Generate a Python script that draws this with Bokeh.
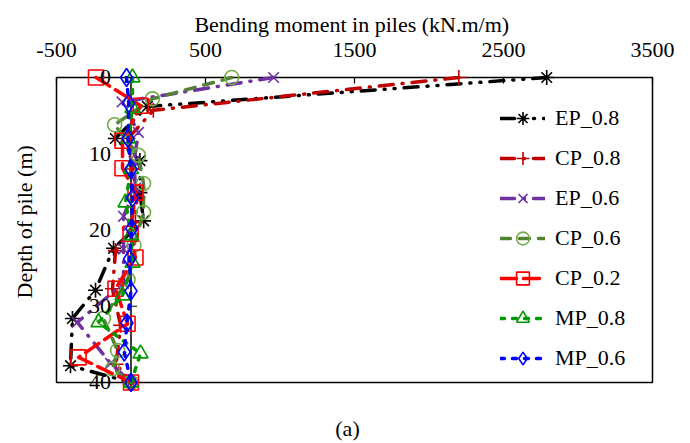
from math import pi
from bokeh.plotting import figure
from bokeh.models import (Range1d, FixedTicker, BoxAnnotation, LabelSet, Label, ColumnDataSource,
                          Title, PrintfTickFormatter)
from bokeh.core.properties import value
from bokeh.embed import file_html
from bokeh.resources import INLINE

# ---------------- data ----------------
x_ticks = [-500, 500, 1500, 2500, 3500]
y_ticks = [0, 10, 20, 30, 40]

labels = ["EP_0.8", "CP_0.8", "EP_0.6", "CP_0.6", "CP_0.2", "MP_0.8", "MP_0.6"]

depth_ep08 = [0, 3.8, 8.0, 10.9, 15.1, 18.8, 22.4, 27.9, 31.6, 37.8, 40]
moment_ep08 = [2790, 110, -105, 60, 60, 85, -117, -238, -393, -406, 0]

depth_cp08 = [0, 4.3, 8.0, 12.0, 15.5, 19.0, 22.7, 27.7, 32.5, 37.6, 40]
moment_cp08 = [2200, 150, -20, 10, 40, 30, -104, -124, -70, -100, 0]

depth_ep06 = [0, 3.2, 7.2, 11.0, 14.5, 18.2, 22.5, 27.0, 32.1, 37.5, 40]
moment_ep06 = [957, -60, 50, 20, 30, -50, -50, -50, -360, -137, 0]

depth_cp06 = [0, 2.8, 6.2, 10.2, 13.9, 17.7, 22.0, 26.5, 31.6, 35.8, 38.2, 40]
moment_cp06 = [676, 144, -110, 50, 84, 84, 20, -20, -185, -90, -124, 0]

depth_cp02 = [0, 3.7, 8.3, 11.9, 15.1, 20.5, 23.6, 27.7, 32.3, 36.7, 40]
moment_cp02 = [-235, 65, -57, -57, 30, -3, 30, -104, -23, -352, 0]

depth_mp08 = [0, 4.0, 8.0, 12.0, 16.4, 20.7, 24.3, 28.6, 32.1, 36.2, 40]
moment_mp08 = [10, 10, -20, 0, -37, 0, 10, -57, -218, 64, 0]

depth_mp06 = [0, 3.4, 8.0, 12.0, 15.8, 19.8, 23.8, 28.0, 32.2, 36.0, 40]
moment_mp06 = [-30, -15, -20, 0, 10, 5, -10, 0, -27, -45, 0]

# ---------------- styles ----------------
FONT = "Liberation Serif"
FS = "22px"

styles = [
    # depth, moment, line colour, marker, marker colour, dash, marker size
    (depth_ep08, moment_ep08, "#000000", "asterisk", "#000000", "14 9 1 9 1 9", 15),
    (depth_cp08, moment_cp08, "#C00000", "cross", "#C00000", "14 9 1 9", 15),
    (depth_ep06, moment_ep06, "#7030A0", "x", "#7030A0", "14 9 1 9", 15),
    (depth_cp06, moment_cp06, "#538135", "circle", "#70AD47", "10 9", 14),
    (depth_cp02, moment_cp02, "#FF0000", "square", "#FF0000", "16 7", 15),
    (depth_mp08, moment_mp08, "#009900", "triangle", "#009900", "4 8", 15),
    (depth_mp06, moment_mp06, "#0000FF", "diamond", "#0000FF", "4 8", 18),
]

# visible box spans -500..3500 and 0..40; the frame is padded (and runs to the
# bottom of the canvas) so that edge markers and the caption are not cut
pad_x = 67.1
pad_top = 1.311
pad_bottom = 8.0

p = figure(width=690, height=443, output_backend="svg", toolbar_location=None,
           x_range=Range1d(x_ticks[0] - pad_x, x_ticks[-1] + pad_x),
           y_range=Range1d(y_ticks[-1] + pad_bottom, y_ticks[0] - pad_top),
           x_axis_location="above", y_axis_location=None,
           min_border_left=46, min_border_right=28, min_border_top=67, min_border_bottom=0)
p.outline_line_color = None
p.grid.visible = False
p.background_fill_color = "white"

ax = p.xaxis[0]
ax.ticker = FixedTicker(ticks=x_ticks)
ax.formatter = PrintfTickFormatter(format="%d")
ax.axis_label = "Bending  moment in piles (kN.m/m)"
ax.axis_label_text_font = FONT
ax.axis_label_text_font_size = FS
ax.axis_label_text_font_style = "normal"
ax.axis_label_text_color = "black"
ax.axis_label_standoff = 3
ax.major_label_text_font = FONT
ax.major_label_text_font_size = FS
ax.major_label_text_color = "black"
ax.major_label_standoff = 11
ax.axis_line_color = None
ax.major_tick_in = 0
ax.major_tick_out = 0
ax.minor_tick_in = 0
ax.minor_tick_out = 0

# plot-area border
box = BoxAnnotation(left=x_ticks[0], right=x_ticks[-1], top=y_ticks[0], bottom=y_ticks[-1],
                    fill_alpha=0, line_color="black", line_alpha=1.0, line_width=1.5,
                    level="underlay")
p.add_layout(box)

# vertical axis at zero moment
p.segment(x0=[0], y0=[y_ticks[0]], x1=[0], y1=[y_ticks[-1]], line_color="black", line_width=1.5)
p.ray(x=[0] * len(y_ticks), y=y_ticks, length=6, length_units="screen", angle=0,
      line_color="black", line_width=1.2)
p.ray(x=x_ticks, y=[y_ticks[0]] * len(x_ticks), length=6, length_units="screen", angle=-pi / 2,
      line_color="black", line_width=1.2)

ylab_src = ColumnDataSource(dict(x=[0] * len(y_ticks), y=y_ticks, text=[str(t) for t in y_ticks]))
p.add_layout(LabelSet(x="x", y="y", text="text", source=ylab_src, x_offset=-20,
                      text_align="right", text_baseline="middle",
                      text_font=value(FONT), text_font_size=value(FS), text_color="black"))

for lab, (dep, mom, lc, mk, mc, dash, ms) in zip(labels, styles):
    p.line(mom, dep, line_color=lc, line_width=3.5, line_dash=dash, line_cap="round",
           line_join="round", legend_label=lab)
    p.scatter(mom, dep, marker=mk, size=ms, line_color=mc, fill_color=None, line_width=1.6,
              legend_label=lab)

leg = p.legend[0]
leg.location = (454, 69)
leg.padding = 0
leg.margin = 0
leg.spacing = 8
leg.glyph_height = 32
leg.label_height = 32
leg.glyph_width = 45
leg.label_standoff = 10
leg.label_text_font = FONT
leg.label_text_font_size = FS
leg.label_text_color = "black"
leg.label_text_baseline = "middle"
leg.border_line_alpha = 0
leg.background_fill_alpha = 0

# axis title on the left
p.add_layout(Title(text="Depth of pile  (m)", align="left", offset=145, standoff=19,
                   text_font=FONT, text_font_size=FS, text_font_style="normal",
                   text_color="black"), "left")
# panel caption, placed below the box inside the (extended) frame
p.add_layout(Label(x=1453, y=46.0, text="(a)", text_align="center", text_baseline="middle",
                   text_font=FONT, text_font_size=FS, text_color="black"))

open("out.html", "w").write(file_html(p, INLINE))
